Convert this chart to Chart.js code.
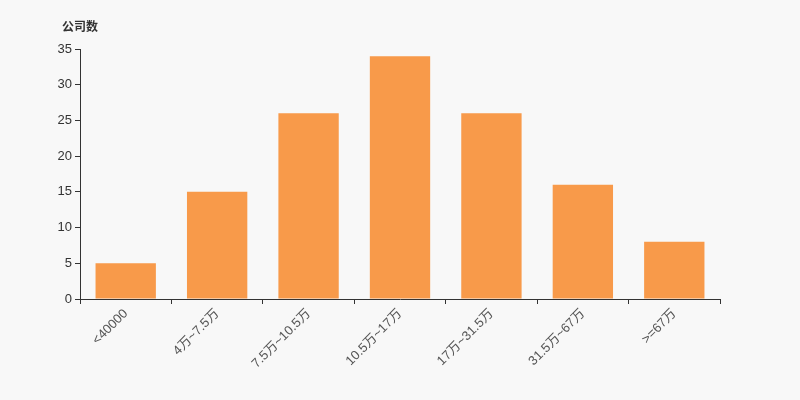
<!DOCTYPE html>
<html>
<head>
<meta charset="utf-8">
<script src="https://cdn.jsdelivr.net/npm/chart.js@4/dist/chart.umd.min.js"></script>
<style>
  html, body { margin: 0; padding: 0; background: #f8f8f8; }
  #wrap { width: 800px; height: 400px; position: relative; }
</style>
</head>
<body>
<div id="wrap"><canvas id="chart" width="800" height="400"></canvas></div>
<script>
const categories = ['<40000', '4万~7.5万', '7.5万~10.5万', '10.5万~17万', '17万~31.5万', '31.5万~67万', '>=67万'];
const companyCounts = [5, 15, 26, 34, 26, 16, 8];
const yTickValues = [0, 5, 10, 15, 20, 25, 30, 35];
const yAxisName = '公司数';

const fontFamily = '"Liberation Sans", Arial, "Noto Sans CJK SC", sans-serif';

// draws the axis name above the y axis
const axisNamePlugin = {
    id: 'axisName',
    afterDraw(chart) {
        const ctx = chart.ctx;
        const y = chart.scales.y;
        ctx.save();
        ctx.font = 'bold 12px ' + fontFamily;
        ctx.fillStyle = '#333';
        ctx.textAlign = 'center';
        ctx.textBaseline = 'middle';
        ctx.fillText(yAxisName, y.right, 28);
        ctx.restore();
    }
};

new Chart(document.getElementById('chart').getContext('2d'), {
    type: 'bar',
    data: {
        labels: categories,
        datasets: [{
            label: yAxisName,
            data: companyCounts,
            backgroundColor: '#f89a4a',
            borderWidth: 0,
            barPercentage: 0.66,
            categoryPercentage: 1
        }]
    },
    options: {
        responsive: false,
        animation: false,
        layout: { padding: { top: 49, right: 80, left: 0, bottom: 0 } },
        plugins: {
            legend: { display: false },
            tooltip: { enabled: false }
        },
        scales: {
            x: {
                offset: true,
                grid: { display: true, drawOnChartArea: false, offset: true, tickLength: 5, color: '#333' },
                border: { display: true, color: '#333', width: 1 },
                ticks: {
                    color: '#555',
                    font: { size: 13, family: fontFamily },
                    minRotation: 45,
                    maxRotation: 45,
                    padding: 2,
                    autoSkip: false
                },
                afterFit(scale) { scale.height = 101; }
            },
            y: {
                min: 0,
                max: 35,
                afterBuildTicks(scale) { scale.ticks = yTickValues.map(v => ({ value: v })); },
                grid: { display: true, drawOnChartArea: false, tickLength: 5, color: '#333' },
                border: { display: true, color: '#333', width: 1 },
                ticks: {
                    color: '#333',
                    font: { size: 13, family: fontFamily },
                    padding: 3
                },
                afterFit(scale) { scale.width = 80; }
            }
        }
    },
    plugins: [axisNamePlugin]
});
</script>
</body>
</html>
